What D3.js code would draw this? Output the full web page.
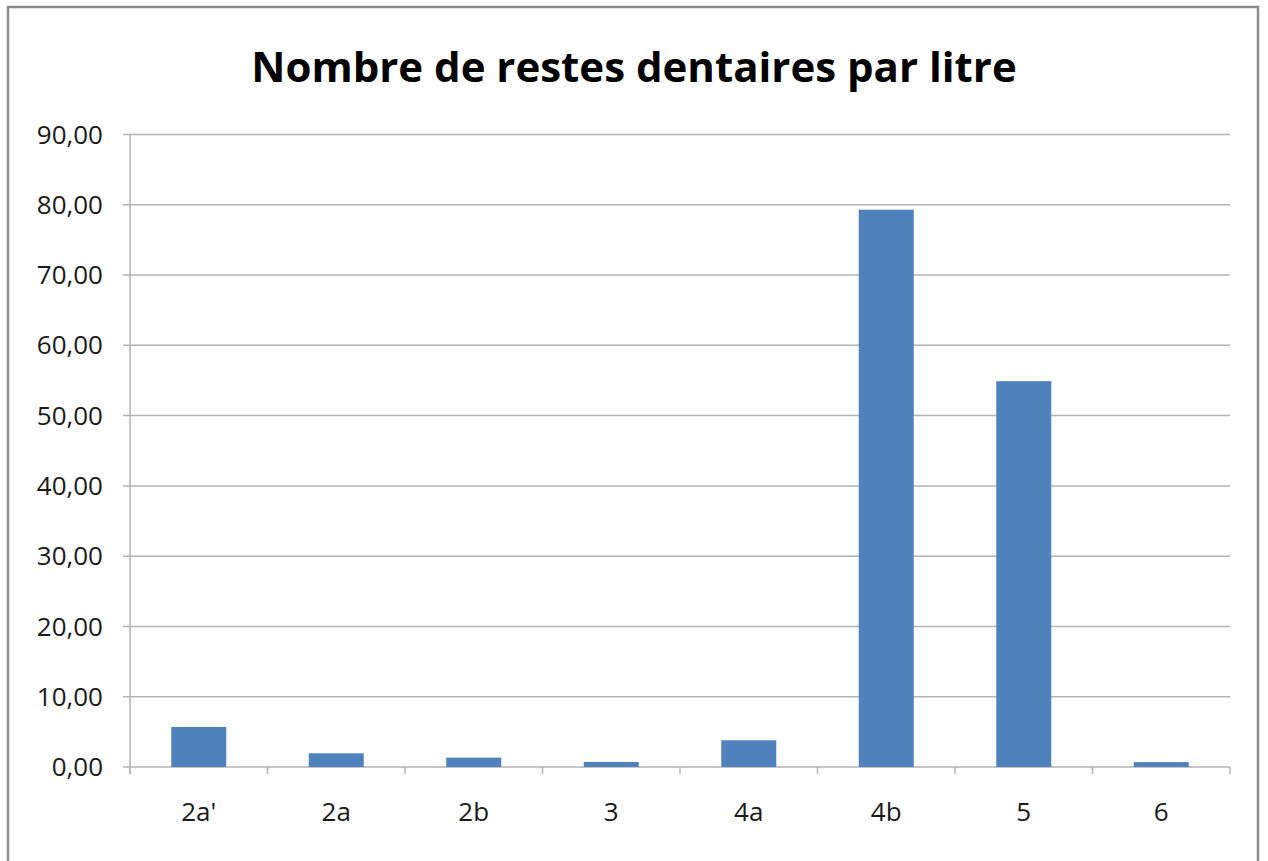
<!DOCTYPE html>
<html>
<head>
<meta charset="utf-8">
<script src="https://cdn.jsdelivr.net/npm/d3@7"></script>
<style>
  body { margin: 0; background: #fff; }
  svg { display: block; }
</style>
</head>
<body>
<div id="chart"></div>
<script>
// chart values
const categories = ["2a'", "2a", "2b", "3", "4a", "4b", "5", "6"];
const values = [5.7, 1.95, 1.33, 0.71, 3.8, 79.3, 54.9, 0.7];
const yTicks = [0, 10, 20, 30, 40, 50, 60, 70, 80, 90];
const title = "Nombre de restes dentaires par litre";

const width = 1268, height = 861;
const margin = { top: 134.5, right: 38, bottom: 94, left: 130 };

const svg = d3.select("#chart").append("svg")
    .attr("width", width)
    .attr("height", height);

// outer frame
svg.append("rect")
    .attr("x", 8).attr("y", 7)
    .attr("width", 1250).attr("height", 870)
    .attr("fill", "#fff")
    .attr("stroke", "#8c8c8c")
    .attr("stroke-width", 2.5);

svg.append("text")
    .attr("x", 634)
    .attr("y", 82)
    .attr("text-anchor", "middle")
    .attr("font-family", "'Open Sans', sans-serif")
    .attr("font-weight", "bold")
    .attr("font-size", 42)
    .attr("fill", "#000")
    .text(title);

const x = d3.scaleBand()
    .domain(categories)
    .range([margin.left, width - margin.right])
    .paddingInner(0.6)
    .paddingOuter(0.3);

const y = d3.scaleLinear()
    .domain([0, 90])
    .range([height - margin.bottom, margin.top]);

// gridlines
svg.append("g")
    .selectAll("line")
    .data(yTicks)
    .enter()
    .append("line")
    .attr("x1", margin.left - 7)
    .attr("x2", width - margin.right)
    .attr("y1", d => y(d))
    .attr("y2", d => y(d))
    .attr("stroke", "#b3b3b3")
    .attr("stroke-width", 1.5);

// y axis line
svg.append("line")
    .attr("x1", margin.left).attr("x2", margin.left)
    .attr("y1", y(90)).attr("y2", y(0) + 7)
    .attr("stroke", "#b3b3b3")
    .attr("stroke-width", 1.5);

// y labels
svg.append("g")
    .selectAll("text")
    .data(yTicks)
    .enter()
    .append("text")
    .attr("x", margin.left - 27)
    .attr("y", d => y(d))
    .attr("dy", "0.35em")
    .attr("text-anchor", "end")
    .attr("font-family", "'Open Sans', sans-serif")
    .attr("font-size", 26)
    .attr("fill", "#1a1a1a")
    .text(d => d3.format(".2f")(d).replace(".", ","));

// bars
svg.append("g")
    .selectAll("rect")
    .data(values)
    .enter()
    .append("rect")
    .attr("x", (d, i) => x(categories[i]))
    .attr("y", d => y(d))
    .attr("width", x.bandwidth())
    .attr("height", d => y(0) - y(d))
    .attr("fill", "#4f81bd");

// x tick marks at category boundaries
const edges = d3.range(categories.length + 1).map(i => margin.left + i * (width - margin.left - margin.right) / categories.length);
svg.append("g")
    .selectAll("line")
    .data(edges)
    .enter()
    .append("line")
    .attr("x1", d => d).attr("x2", d => d)
    .attr("y1", y(0)).attr("y2", y(0) + 7)
    .attr("stroke", "#b3b3b3")
    .attr("stroke-width", 1.5);

// x labels
svg.append("g")
    .selectAll("text")
    .data(categories)
    .enter()
    .append("text")
    .attr("x", d => x(d) + x.bandwidth() / 2)
    .attr("y", 821)
    .attr("text-anchor", "middle")
    .attr("font-family", "'Open Sans', sans-serif")
    .attr("font-size", 26)
    .attr("fill", "#1a1a1a")
    .text(d => d);
</script>
</body>
</html>
